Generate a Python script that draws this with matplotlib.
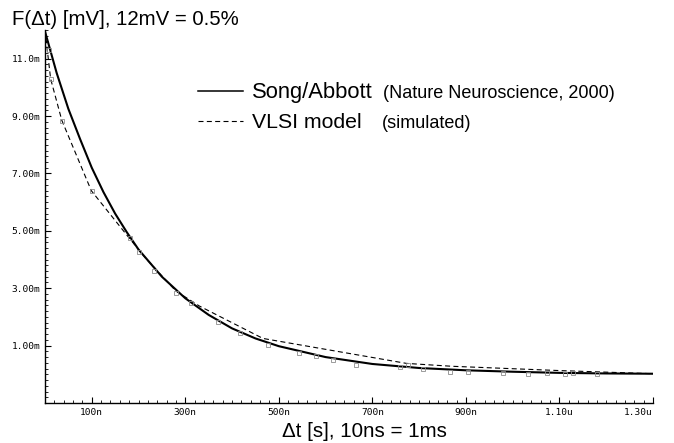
import matplotlib
matplotlib.use("Agg")
import matplotlib.pyplot as plt
from matplotlib.lines import Line2D
from matplotlib.ticker import MultipleLocator

# time in ns, amplitude in mV
song_t = [0, 25, 50, 75, 100, 125, 150, 175, 200, 250, 300, 350, 400, 450, 500,
          600, 700, 800, 900, 1000, 1100, 1200, 1300]
song_v = [11.95, 10.5, 9.25, 8.2, 7.2, 6.35, 5.6, 4.95, 4.35, 3.4, 2.65, 2.07, 1.6,
          1.25, 0.98, 0.6, 0.36, 0.22, 0.14, 0.09, 0.05, 0.03, 0.02]

vlsi_t = [0, 12, 36, 99, 180, 215, 280, 330, 466, 773, 870, 1100, 1300]
vlsi_v = [12.0, 10.3, 8.85, 6.4, 4.75, 4.05, 2.9, 2.38, 1.25, 0.38, 0.28, 0.13, 0.02]

# simulation sample markers
mark_t = [9, 12, 36, 100, 182, 201, 234, 280, 312, 369, 416, 476, 544, 580, 616,
          666, 759, 776, 808, 866, 904, 979, 1033, 1073, 1112, 1129, 1181]
mark_v = [11.3, 10.3, 8.84, 6.4, 4.74, 4.27, 3.6, 2.83, 2.5, 1.84, 1.44, 1.03, 0.75,
          0.63, 0.51, 0.34, 0.26, 0.34, 0.17, 0.08, 0.08, 0.05, 0.02, 0.05, 0.0,
          0.03, 0.0]

xticks = [100, 300, 500, 700, 900, 1100, 1300]
xticklabels = ["100n", "300n", "500n", "700n", "900n", "1.10u", "1.30u"]
yticks = [1, 3, 5, 7, 9, 11]
yticklabels = ["1.00m", "3.00m", "5.00m", "7.00m", "9.00m", "11.0m"]

plt.rcParams['font.family'] = ['Liberation Sans', 'DejaVu Sans']

W, H = 674, 443
fig = plt.figure(figsize=(W / 100, H / 100), dpi=100)
ax = fig.add_axes([45 / W, 1 - 403 / H, (653 - 45) / W, (403 - 30) / H])

ax.plot(vlsi_t, vlsi_v, color='k', lw=0.8, linestyle=(0, (4.5, 3)))
ax.plot(song_t, song_v, color='k', lw=1.5)
ax.plot(mark_t, mark_v, linestyle='none', marker='s', ms=3, mfc='none',
        mec='#8c8c8c', mew=0.6)

ax.set_xlim(0, 1300)
ax.set_ylim(-1, 12)
ax.set_xticks(xticks)
ax.set_xticklabels(xticklabels)
ax.set_yticks(yticks)
ax.set_yticklabels(yticklabels)
ax.xaxis.set_minor_locator(MultipleLocator(20))
ax.yaxis.set_minor_locator(MultipleLocator(0.2))
ax.tick_params(which='major', direction='in', length=4, width=0.8, pad=3.5,
               labelsize=6.8, labelfontfamily='DejaVu Sans Mono')
ax.tick_params(which='minor', direction='in', length=2, width=0.6)
ax.get_xticklabels()[-1].set_ha('right')
for s in ['top', 'right']:
    ax.spines[s].set_visible(False)
for s in ['left', 'bottom']:
    ax.spines[s].set_linewidth(1.0)

fig.text(12 / W, 1 - 25 / H, "F(\u0394t) [mV], 12mV = 0.5%", fontsize=14.7, va='baseline')
fig.text(364 / W, 1 - 437 / H, "\u0394t [s], 10ns = 1ms", fontsize=14.8,
         va='baseline', ha='center')

# legend
fig.add_artist(Line2D([198 / W, 243 / W], [1 - 90.7 / H] * 2, transform=fig.transFigure,
                      color='k', lw=1.1))
fig.add_artist(Line2D([198 / W, 243 / W], [1 - 120.7 / H] * 2, transform=fig.transFigure,
                      color='k', lw=0.8, linestyle=(0, (4.5, 3))))
fig.text(252 / W, 1 - 98.3 / H, "Song/Abbott", fontsize=15.8, va='baseline')
fig.text(383 / W, 1 - 98.3 / H, "(Nature Neuroscience, 2000)", fontsize=13, va='baseline')
fig.text(252 / W, 1 - 128.3 / H, "VLSI model", fontsize=15.3, va='baseline')
fig.text(382 / W, 1 - 128.3 / H, "(simulated)", fontsize=13, va='baseline')

fig.savefig("out.png", dpi=100)
